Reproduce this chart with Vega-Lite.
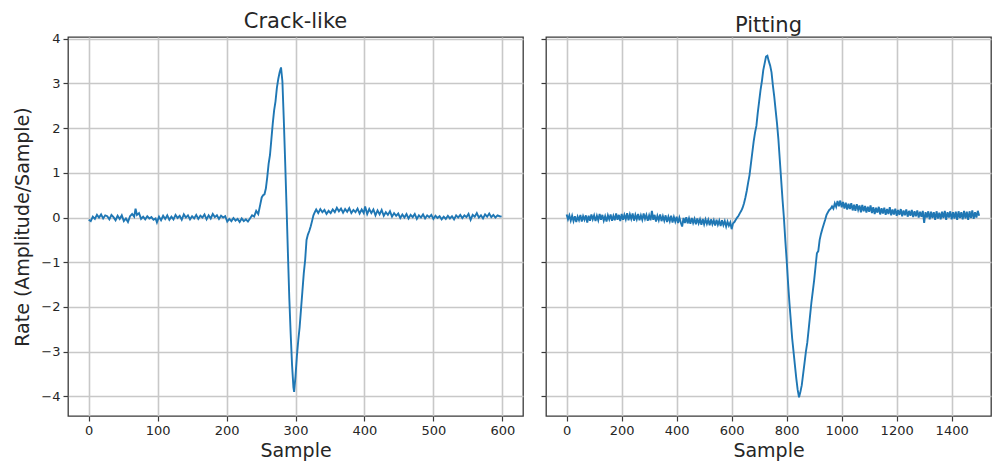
{
  "$schema": "https://vega.github.io/schema/vega-lite/v6.json",
  "padding": {"left": 13, "top": 10, "right": 0, "bottom": 0},
  "background": "white",
  "config": {
    "font": "DejaVu Sans",
    "view": {"stroke": "#3a3a3a", "strokeWidth": 1.3},
    "axis": {
      "labelFont": "DejaVu Sans", "labelFontSize": 13, "labelColor": "#262626",
      "titleFont": "DejaVu Sans", "titleFontSize": 19, "titleFontWeight": "normal", "titleColor": "#262626",
      "tickSize": 5, "tickColor": "#3a3a3a", "tickWidth": 1.2,
      "domain": false,
      "grid": true, "gridColor": "#c8c8c8", "gridWidth": 1.6, "gridOpacity": 1,
      "labelPadding": 3, "format": "d"
    },
    "title": {"font": "DejaVu Sans", "fontSize": 21, "fontWeight": "normal", "color": "#262626", "offset": 1}
  },
  "datasets": {
    "crack": [
      {"x":0,"y":-0.05},{"x":3,"y":-0.08},{"x":6,"y":0.02},{"x":9,"y":-0.03},{"x":12,"y":0.06},{"x":15,"y":0.0},{"x":18,"y":0.07},{"x":21,"y":-0.02},{"x":24,"y":0.05},{"x":27,"y":0.03},
      {"x":30,"y":-0.04},{"x":33,"y":0.06},{"x":36,"y":0.01},{"x":39,"y":-0.06},{"x":42,"y":0.04},{"x":45,"y":-0.03},{"x":48,"y":0.05},{"x":51,"y":-0.08},{"x":54,"y":-0.02},{"x":57,"y":-0.1},
      {"x":60,"y":0.03},{"x":63,"y":0.08},{"x":66,"y":0.02},{"x":68,"y":0.2},{"x":70,"y":0.06},{"x":73,"y":0.1},{"x":76,"y":-0.03},{"x":79,"y":0.02},{"x":82,"y":-0.04},{"x":85,"y":0.03},
      {"x":88,"y":-0.02},{"x":91,"y":0.01},{"x":94,"y":-0.05},{"x":97,"y":-0.02},{"x":99,"y":-0.11},{"x":102,"y":0.02},{"x":105,"y":-0.06},{"x":108,"y":0.04},{"x":111,"y":-0.03},{"x":114,"y":0.05},
      {"x":117,"y":-0.05},{"x":120,"y":0.02},{"x":123,"y":-0.04},{"x":126,"y":0.06},{"x":129,"y":-0.01},{"x":132,"y":0.04},{"x":135,"y":-0.05},{"x":138,"y":0.07},{"x":141,"y":0.0},{"x":144,"y":0.05},
      {"x":147,"y":-0.04},{"x":150,"y":0.03},{"x":153,"y":-0.02},{"x":156,"y":0.06},{"x":159,"y":-0.03},{"x":162,"y":0.04},{"x":165,"y":0.0},{"x":168,"y":0.07},{"x":171,"y":-0.04},{"x":174,"y":0.05},
      {"x":177,"y":-0.02},{"x":180,"y":0.08},{"x":183,"y":0.01},{"x":186,"y":0.05},{"x":189,"y":-0.03},{"x":192,"y":0.04},{"x":195,"y":0.0},{"x":198,"y":0.03},{"x":201,"y":-0.09},{"x":204,"y":-0.03},
      {"x":207,"y":-0.08},{"x":210,"y":-0.01},{"x":213,"y":-0.07},{"x":216,"y":-0.03},{"x":219,"y":-0.1},{"x":222,"y":-0.02},{"x":225,"y":-0.08},{"x":228,"y":-0.04},{"x":231,"y":-0.09},{"x":234,"y":-0.02},
      {"x":237,"y":0.05},{"x":240,"y":0.02},{"x":243,"y":0.15},{"x":246,"y":0.08},{"x":249,"y":0.3},{"x":251,"y":0.45},{"x":253,"y":0.5},{"x":255,"y":0.52},{"x":257,"y":0.65},{"x":259,"y":0.9},
      {"x":261,"y":1.2},{"x":263,"y":1.4},{"x":265,"y":1.75},{"x":267,"y":2.1},{"x":269,"y":2.4},{"x":271,"y":2.6},{"x":273,"y":2.9},{"x":275,"y":3.1},{"x":277,"y":3.25},{"x":279,"y":3.36},
      {"x":281,"y":3.05},{"x":283,"y":2.2},{"x":285,"y":1.25},{"x":287,"y":0.25},{"x":289,"y":-0.8},{"x":291,"y":-1.8},{"x":293,"y":-2.6},{"x":295,"y":-3.3},{"x":297,"y":-3.8},{"x":298,"y":-3.9},
      {"x":300,"y":-3.55},{"x":302,"y":-3.1},{"x":304,"y":-2.75},{"x":306,"y":-2.45},{"x":308,"y":-2.05},{"x":310,"y":-1.65},{"x":312,"y":-1.25},{"x":314,"y":-0.95},{"x":316,"y":-0.5},{"x":318,"y":-0.38},
      {"x":320,"y":-0.3},{"x":322,"y":-0.2},{"x":324,"y":-0.08},{"x":326,"y":0.05},{"x":328,"y":0.12},{"x":330,"y":0.18},{"x":333,"y":0.1},{"x":336,"y":0.19},{"x":339,"y":0.12},{"x":342,"y":0.17},
      {"x":345,"y":0.08},{"x":348,"y":0.15},{"x":351,"y":0.1},{"x":354,"y":0.18},{"x":357,"y":0.12},{"x":360,"y":0.22},{"x":363,"y":0.14},{"x":366,"y":0.2},{"x":369,"y":0.11},{"x":372,"y":0.19},
      {"x":375,"y":0.13},{"x":378,"y":0.21},{"x":381,"y":0.1},{"x":384,"y":0.17},{"x":387,"y":0.12},{"x":390,"y":0.2},{"x":393,"y":0.09},{"x":396,"y":0.18},{"x":399,"y":0.1},{"x":401,"y":0.25},
      {"x":404,"y":0.08},{"x":407,"y":0.19},{"x":410,"y":0.1},{"x":413,"y":0.18},{"x":416,"y":0.05},{"x":419,"y":0.16},{"x":422,"y":0.07},{"x":425,"y":0.17},{"x":428,"y":0.04},{"x":431,"y":0.12},
      {"x":434,"y":0.06},{"x":437,"y":0.14},{"x":440,"y":0.02},{"x":443,"y":0.1},{"x":446,"y":0.04},{"x":449,"y":0.09},{"x":452,"y":-0.01},{"x":455,"y":0.07},{"x":458,"y":0.0},{"x":461,"y":0.08},
      {"x":464,"y":-0.02},{"x":467,"y":0.06},{"x":470,"y":0.01},{"x":473,"y":0.08},{"x":476,"y":-0.03},{"x":479,"y":0.05},{"x":482,"y":0.0},{"x":485,"y":0.07},{"x":488,"y":-0.02},{"x":491,"y":0.05},
      {"x":494,"y":0.01},{"x":497,"y":0.06},{"x":500,"y":-0.03},{"x":503,"y":0.04},{"x":506,"y":-0.01},{"x":509,"y":0.03},{"x":512,"y":-0.04},{"x":515,"y":0.02},{"x":518,"y":-0.03},{"x":521,"y":0.04},
      {"x":524,"y":-0.02},{"x":527,"y":0.03},{"x":530,"y":-0.04},{"x":533,"y":0.05},{"x":536,"y":0.0},{"x":539,"y":0.06},{"x":542,"y":-0.01},{"x":545,"y":0.05},{"x":548,"y":0.01},{"x":551,"y":0.08},
      {"x":554,"y":-0.05},{"x":557,"y":0.06},{"x":560,"y":0.02},{"x":563,"y":0.1},{"x":566,"y":0.0},{"x":569,"y":0.05},{"x":572,"y":-0.02},{"x":575,"y":0.07},{"x":578,"y":0.02},{"x":581,"y":0.09},
      {"x":584,"y":0.01},{"x":587,"y":0.06},{"x":590,"y":0.0},{"x":593,"y":0.05},{"x":596,"y":0.03},{"x":599,"y":0.02}
    ],
    "pit": [
      {"x":0,"y":0.07},{"x":5,"y":-0.04},{"x":10,"y":0.05},{"x":15,"y":-0.07},{"x":20,"y":0.04},{"x":25,"y":-0.08},{"x":30,"y":0.03},{"x":35,"y":-0.1},{"x":40,"y":0.02},{"x":45,"y":-0.06},
      {"x":50,"y":0.06},{"x":55,"y":-0.09},{"x":60,"y":0.03},{"x":65,"y":-0.05},{"x":70,"y":0.05},{"x":75,"y":-0.11},{"x":80,"y":0.04},{"x":85,"y":-0.07},{"x":90,"y":0.07},{"x":95,"y":-0.04},
      {"x":100,"y":0.05},{"x":105,"y":-0.08},{"x":110,"y":0.04},{"x":115,"y":-0.06},{"x":120,"y":0.08},{"x":125,"y":-0.05},{"x":130,"y":0.06},{"x":135,"y":-0.07},{"x":140,"y":0.03},{"x":145,"y":-0.09},
      {"x":150,"y":0.05},{"x":155,"y":-0.04},{"x":160,"y":0.07},{"x":165,"y":-0.07},{"x":170,"y":0.04},{"x":175,"y":-0.06},{"x":180,"y":0.09},{"x":185,"y":-0.05},{"x":190,"y":0.06},{"x":195,"y":-0.08},
      {"x":200,"y":0.08},{"x":205,"y":-0.05},{"x":210,"y":0.06},{"x":215,"y":-0.04},{"x":220,"y":0.1},{"x":225,"y":-0.06},{"x":230,"y":0.07},{"x":235,"y":-0.03},{"x":240,"y":0.09},{"x":245,"y":-0.07},
      {"x":250,"y":0.06},{"x":255,"y":-0.04},{"x":260,"y":0.08},{"x":265,"y":-0.06},{"x":270,"y":0.05},{"x":275,"y":-0.05},{"x":280,"y":0.09},{"x":285,"y":-0.03},{"x":290,"y":0.06},{"x":295,"y":-0.07},
      {"x":300,"y":0.05},{"x":305,"y":-0.06},{"x":310,"y":0.15},{"x":315,"y":-0.05},{"x":320,"y":0.06},{"x":325,"y":-0.09},{"x":330,"y":0.04},{"x":335,"y":-0.06},{"x":340,"y":0.07},{"x":345,"y":-0.08},
      {"x":350,"y":0.03},{"x":355,"y":-0.07},{"x":360,"y":0.05},{"x":365,"y":-0.1},{"x":370,"y":0.02},{"x":375,"y":-0.08},{"x":380,"y":0.04},{"x":385,"y":-0.11},{"x":390,"y":0.01},{"x":395,"y":-0.09},
      {"x":400,"y":0.02},{"x":405,"y":-0.12},{"x":410,"y":0.0},{"x":415,"y":-0.11},{"x":420,"y":-0.2},{"x":425,"y":-0.01},{"x":430,"y":-0.12},{"x":435,"y":0.01},{"x":440,"y":-0.13},{"x":445,"y":-0.02},
      {"x":450,"y":-0.14},{"x":455,"y":-0.01},{"x":460,"y":-0.12},{"x":465,"y":-0.03},{"x":470,"y":-0.15},{"x":475,"y":-0.02},{"x":480,"y":-0.13},{"x":485,"y":-0.04},{"x":490,"y":-0.16},{"x":495,"y":-0.03},
      {"x":500,"y":-0.15},{"x":505,"y":-0.04},{"x":510,"y":-0.14},{"x":515,"y":-0.05},{"x":520,"y":-0.17},{"x":525,"y":-0.04},{"x":530,"y":-0.15},{"x":535,"y":-0.06},{"x":540,"y":-0.18},{"x":545,"y":-0.05},
      {"x":550,"y":-0.16},{"x":555,"y":-0.07},{"x":560,"y":-0.19},{"x":565,"y":-0.06},{"x":570,"y":-0.17},{"x":575,"y":-0.08},{"x":580,"y":-0.2},{"x":585,"y":-0.09},{"x":590,"y":-0.18},{"x":595,"y":-0.11},
      {"x":600,"y":-0.26},{"x":605,"y":-0.13},{"x":610,"y":-0.1},{"x":615,"y":-0.05},{"x":620,"y":0.0},{"x":625,"y":0.04},{"x":630,"y":0.1},{"x":635,"y":0.15},{"x":640,"y":0.22},{"x":645,"y":0.32},
      {"x":650,"y":0.45},{"x":655,"y":0.6},{"x":660,"y":0.78},{"x":665,"y":0.95},{"x":670,"y":1.2},{"x":675,"y":1.45},{"x":680,"y":1.7},{"x":685,"y":1.9},{"x":690,"y":2.05},{"x":695,"y":2.35},
      {"x":700,"y":2.6},{"x":705,"y":2.85},{"x":710,"y":3.05},{"x":715,"y":3.3},{"x":720,"y":3.45},{"x":725,"y":3.6},{"x":730,"y":3.62},{"x":735,"y":3.5},{"x":740,"y":3.4},{"x":745,"y":3.25},
      {"x":750,"y":2.95},{"x":755,"y":2.7},{"x":760,"y":2.4},{"x":765,"y":2.1},{"x":770,"y":1.75},{"x":775,"y":1.3},{"x":780,"y":0.85},{"x":785,"y":0.4},{"x":790,"y":0.0},{"x":795,"y":-0.5},
      {"x":800,"y":-0.95},{"x":805,"y":-1.45},{"x":810,"y":-1.9},{"x":815,"y":-2.3},{"x":820,"y":-2.7},{"x":825,"y":-3.0},{"x":830,"y":-3.3},{"x":835,"y":-3.6},{"x":840,"y":-3.85},{"x":845,"y":-4.02},
      {"x":850,"y":-3.9},{"x":855,"y":-3.75},{"x":860,"y":-3.5},{"x":865,"y":-3.25},{"x":870,"y":-3.0},{"x":875,"y":-2.8},{"x":880,"y":-2.5},{"x":885,"y":-2.2},{"x":890,"y":-1.9},{"x":895,"y":-1.65},
      {"x":900,"y":-1.4},{"x":905,"y":-1.1},{"x":910,"y":-0.8},{"x":915,"y":-0.75},{"x":920,"y":-0.5},{"x":925,"y":-0.36},{"x":930,"y":-0.25},{"x":935,"y":-0.15},{"x":940,"y":-0.05},{"x":945,"y":0.06},
      {"x":950,"y":0.12},{"x":955,"y":0.17},{"x":960,"y":0.2},{"x":965,"y":0.25},{"x":970,"y":0.2},{"x":975,"y":0.32},{"x":980,"y":0.24},{"x":985,"y":0.37},{"x":990,"y":0.25},{"x":995,"y":0.38},
      {"x":1000,"y":0.23},{"x":1005,"y":0.35},{"x":1010,"y":0.2},{"x":1015,"y":0.33},{"x":1020,"y":0.18},{"x":1025,"y":0.31},{"x":1030,"y":0.19},{"x":1035,"y":0.32},{"x":1040,"y":0.16},{"x":1045,"y":0.29},
      {"x":1050,"y":0.15},{"x":1055,"y":0.3},{"x":1060,"y":0.17},{"x":1065,"y":0.27},{"x":1070,"y":0.12},{"x":1075,"y":0.28},{"x":1080,"y":0.14},{"x":1085,"y":0.26},{"x":1090,"y":0.11},{"x":1095,"y":0.24},
      {"x":1100,"y":0.13},{"x":1105,"y":0.27},{"x":1110,"y":0.1},{"x":1115,"y":0.23},{"x":1120,"y":0.08},{"x":1125,"y":0.22},{"x":1130,"y":0.11},{"x":1135,"y":0.24},{"x":1140,"y":0.07},{"x":1145,"y":0.21},
      {"x":1150,"y":0.09},{"x":1155,"y":0.22},{"x":1160,"y":0.06},{"x":1165,"y":0.19},{"x":1170,"y":0.08},{"x":1175,"y":0.23},{"x":1180,"y":0.05},{"x":1185,"y":0.18},{"x":1190,"y":0.07},{"x":1195,"y":0.2},
      {"x":1200,"y":0.04},{"x":1205,"y":0.17},{"x":1210,"y":0.06},{"x":1215,"y":0.19},{"x":1220,"y":0.03},{"x":1225,"y":0.16},{"x":1230,"y":0.05},{"x":1235,"y":0.18},{"x":1240,"y":0.02},{"x":1245,"y":0.15},
      {"x":1250,"y":0.04},{"x":1255,"y":0.17},{"x":1260,"y":0.01},{"x":1265,"y":0.14},{"x":1270,"y":0.03},{"x":1275,"y":0.16},{"x":1280,"y":0.0},{"x":1285,"y":0.13},{"x":1290,"y":0.02},{"x":1295,"y":0.15},
      {"x":1300,"y":-0.12},{"x":1305,"y":0.12},{"x":1310,"y":0.0},{"x":1315,"y":0.14},{"x":1320,"y":-0.04},{"x":1325,"y":0.13},{"x":1330,"y":-0.01},{"x":1335,"y":0.12},{"x":1340,"y":-0.05},{"x":1345,"y":0.14},
      {"x":1350,"y":-0.02},{"x":1355,"y":0.11},{"x":1360,"y":-0.04},{"x":1365,"y":0.13},{"x":1370,"y":-0.01},{"x":1375,"y":0.15},{"x":1380,"y":-0.05},{"x":1385,"y":0.12},{"x":1390,"y":0.0},{"x":1395,"y":0.14},
      {"x":1400,"y":-0.04},{"x":1405,"y":0.12},{"x":1410,"y":-0.02},{"x":1415,"y":0.13},{"x":1420,"y":-0.05},{"x":1425,"y":0.14},{"x":1430,"y":-0.01},{"x":1435,"y":0.12},{"x":1440,"y":-0.04},{"x":1445,"y":0.15},
      {"x":1450,"y":-0.02},{"x":1455,"y":0.13},{"x":1460,"y":-0.05},{"x":1465,"y":0.14},{"x":1470,"y":-0.01},{"x":1475,"y":0.16},{"x":1480,"y":-0.03},{"x":1485,"y":0.12},{"x":1490,"y":0.0},{"x":1495,"y":0.15},
      {"x":1500,"y":0.04}
    ]
  },
  "hconcat": [
    {
      "title": "Crack-like",
      "width": 455,
      "height": 379,
      "data": {"name": "crack"},
      "mark": {"type": "line", "color": "#1f77b4", "strokeWidth": 1.9, "clip": true},
      "encoding": {
        "x": {"field": "x", "type": "quantitative", "title": "Sample",
              "scale": {"domain": [-30, 630], "nice": false, "zero": false},
              "axis": {"values": [0, 100, 200, 300, 400, 500, 600]}},
        "y": {"field": "y", "type": "quantitative", "title": "Rate (Amplitude/Sample)",
              "scale": {"domain": [-4.44, 4.04], "nice": false, "zero": false},
              "axis": {"values": [-4, -3, -2, -1, 0, 1, 2, 3, 4], "titlePadding": 8}}
      }
    },
    {
      "title": "Pitting",
      "width": 445,
      "height": 379,
      "data": {"name": "pit"},
      "mark": {"type": "line", "color": "#1f77b4", "strokeWidth": 1.9, "clip": true},
      "encoding": {
        "x": {"field": "x", "type": "quantitative", "title": "Sample",
              "scale": {"domain": [-75, 1543], "nice": false, "zero": false},
              "axis": {"values": [0, 200, 400, 600, 800, 1000, 1200, 1400]}},
        "y": {"field": "y", "type": "quantitative", "title": null,
              "scale": {"domain": [-4.44, 4.04], "nice": false, "zero": false},
              "axis": {"values": [-4, -3, -2, -1, 0, 1, 2, 3, 4], "labels": false}}
      }
    }
  ],
  "spacing": 15,
  "resolve": {"scale": {"y": "independent"}}
}
